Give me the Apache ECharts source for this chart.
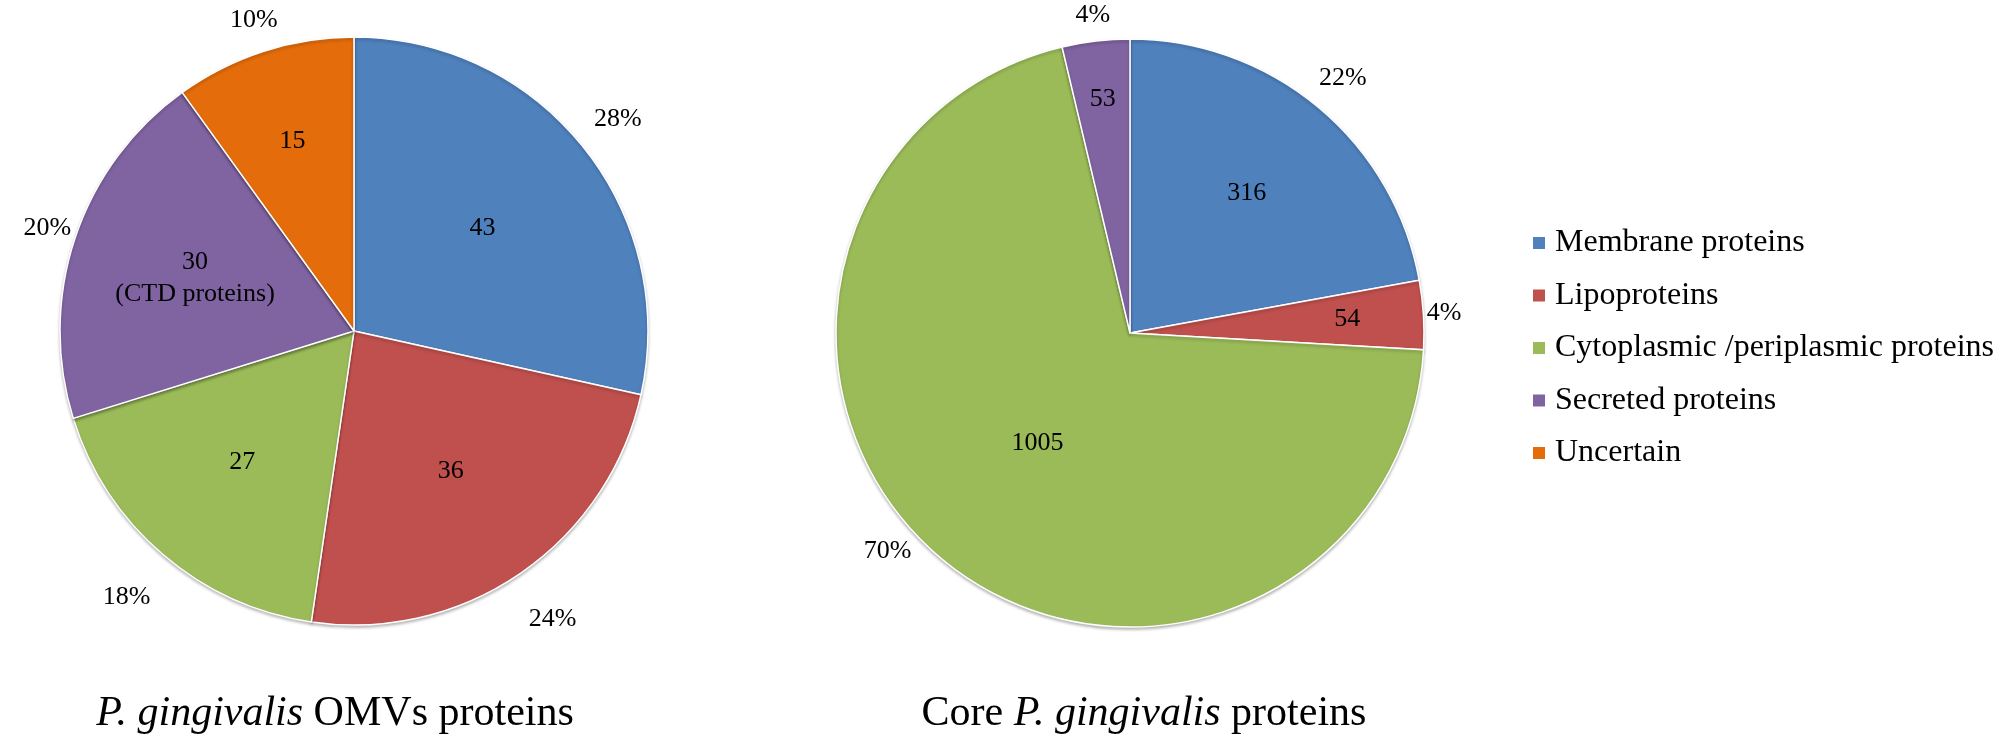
<!DOCTYPE html>
<html>
<head>
<meta charset="utf-8">
<script src="https://cdn.jsdelivr.net/npm/echarts@6/dist/echarts.min.js"></script>
<style>
  html, body { margin: 0; padding: 0; background: #fff; }
  #pies { width: 2008px; height: 738px; }
</style>
</head>
<body>
<div id="pies"></div>
<script>
// categories shared by both pies
const categories = [
  'Membrane proteins',
  'Lipoproteins',
  'Cytoplasmic /periplasmic proteins',
  'Secreted proteins',
  'Uncertain'
];
const colors = ['#4F81BD', '#C0504D', '#9BBB59', '#8064A2', '#E46C0A'];

// OMVs pie
const omvValues = [43, 36, 27, 30, 15];
const omvNotes = ['', '', '', '(CTD proteins)', ''];

// core pie (no "Uncertain" slice)
const coreValues = [316, 54, 1005, 53];

// label distance from the centre, in pie radii (Excel puts them a bit unevenly)
const omvNumPos = [0.56, 0.58, 0.585, 0.57, 0.68];
const omvPctPos = [1.15, 1.19, 1.19, 1.10, 1.11];
const coreNumPos = [0.62, 0.74, 0.49, 0.80];
const corePctPos = [1.13, 1.07, 1.11, 1.09];
// extra turn (degrees, clockwise) off the slice's mid line
const corePctTurn = [0, 0, 8, 0];

const font = 'Liberation Serif';
const R = 294;

const chart = echarts.init(document.getElementById('pies'));

// move an inside label to k * R along its slice's mid line (optionally turned a bit)
function radial(center, pos, turn) {
  return p => {
    const r = p.labelRect;
    const cx = r.x + r.width / 2;
    const cy = r.y + r.height / 2;
    const a = Math.atan2(cy - center[1], cx - center[0]) + ((turn && turn[p.dataIndex]) || 0) * Math.PI / 180;
    const d = pos[p.dataIndex] * R;
    return {
      dx: center[0] + d * Math.cos(a) - cx,
      dy: center[1] + d * Math.sin(a) - cy
    };
  };
}

// one visible pie + two transparent pies that only carry the labels
function pieSeries(values, center, notes, numPos, pctPos, pctTurn) {
  const coloured = values.map((v, i) => ({ name: categories[i], value: v, itemStyle: { color: colors[i] } }));
  const plain = values.map((v, i) => ({ name: categories[i], value: v }));
  const ghost = { color: 'rgba(0,0,0,0)', borderWidth: 0 };
  return [
    {
      type: 'pie',
      center: center,
      radius: [0, R],
      startAngle: 90,
      clockwise: true,
      animation: false,
      data: coloured,
      label: { show: false },
      labelLine: { show: false },
      itemStyle: {
        borderColor: '#fff',
        borderWidth: 1.5,
        shadowColor: 'rgba(0,0,0,0.25)',
        shadowBlur: 3,
        shadowOffsetY: 2
      },
      emphasis: { disabled: true }
    },
    {
      type: 'pie',
      center: center,
      radius: [0, R * 1.2],
      startAngle: 90,
      animation: false,
      silent: true,
      legendHoverLink: false,
      data: plain,
      itemStyle: ghost,
      emphasis: { disabled: true },
      labelLine: { show: false },
      label: {
        show: true,
        position: 'inside',
        fontFamily: font,
        fontSize: 26,
        lineHeight: 32,
        color: '#000',
        formatter: p => notes && notes[p.dataIndex] ? p.value + '\n' + notes[p.dataIndex] : String(p.value)
      },
      labelLayout: radial(center, numPos)
    },
    {
      type: 'pie',
      center: center,
      radius: [R, R * 1.2],
      startAngle: 90,
      animation: false,
      silent: true,
      legendHoverLink: false,
      data: plain,
      itemStyle: ghost,
      emphasis: { disabled: true },
      labelLine: { show: false },
      label: {
        show: true,
        position: 'inside',
        fontFamily: font,
        fontSize: 26,
        color: '#000',
        formatter: p => Math.round(p.percent) + '%'
      },
      labelLayout: radial(center, pctPos, pctTurn)
    }
  ];
}

function subTitle(text, x) {
  return {
    text: text,
    left: x,
    top: 688,
    textAlign: 'center',
    textStyle: {
      fontFamily: font,
      fontSize: 42,
      fontWeight: 'normal',
      color: '#000',
      rich: { i: { fontFamily: font, fontSize: 42, fontStyle: 'italic', color: '#000' } }
    }
  };
}

chart.setOption({
  backgroundColor: '#fff',
  color: colors,
  title: [
    subTitle('{i|P. gingivalis} OMVs proteins', 330),
    subTitle('Core {i|P. gingivalis} proteins', 1139)
  ],
  legend: {
    orient: 'vertical',
    left: 1526,
    top: 222,
    data: categories,
    icon: 'rect',
    itemWidth: 14,
    itemHeight: 14,
    itemGap: 20.5,
    selectedMode: false,
    textStyle: { fontFamily: font, fontSize: 32, color: '#000', padding: [0, 0, 0, 4] }
  },
  series: [
    ...pieSeries(omvValues, [354, 331], omvNotes, omvNumPos, omvPctPos),
    ...pieSeries(coreValues, [1130, 333], null, coreNumPos, corePctPos, corePctTurn)
  ]
});
</script>
</body>
</html>
